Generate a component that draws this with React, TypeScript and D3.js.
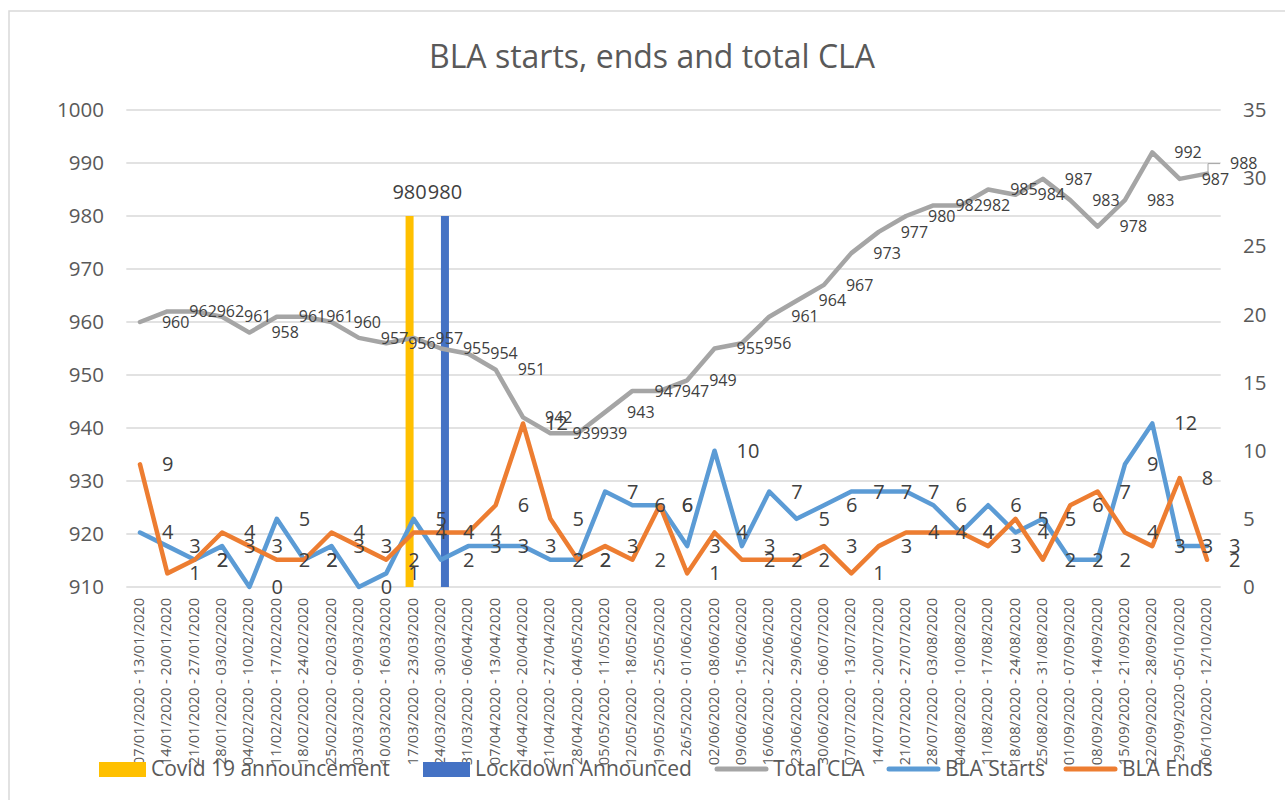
import React from "react";
import * as d3 from "d3";

const categories = [
  "07/01/2020 - 13/01/2020", "14/01/2020 - 20/01/2020", "21/01/2020 - 27/01/2020", "28/01/2020 - 03/02/2020",
  "04/02/2020 - 10/02/2020", "11/02/2020 - 17/02/2020", "18/02/2020 - 24/02/2020", "25/02/2020 - 02/03/2020",
  "03/03/2020 - 09/03/2020", "10/03/2020 - 16/03/2020", "17/03/2020 - 23/03/2020", "24/03/2020 - 30/03/2020",
  "31/03/2020 - 06/04/2020", "07/04/2020 - 13/04/2020", "14/04/2020 - 20/04/2020", "21/04/2020 - 27/04/2020",
  "28/04/2020 - 04/05/2020", "05/05/2020 - 11/05/2020", "12/05/2020 - 18/05/2020", "19/05/2020 - 25/05/2020",
  "26/5/2020 - 01/06/2020", "02/06/2020 - 08/06/2020", "09/06/2020 - 15/06/2020", "16/06/2020 - 22/06/2020",
  "23/06/2020 - 29/06/2020", "30/06/2020 - 06/07/2020", "07/07/2020 - 13/07/2020", "14/07/2020 - 20/07/2020",
  "21/07/2020 - 27/07/2020", "28/07/2020 - 03/08/2020", "04/08/2020 - 10/08/2020", "11/08/2020 - 17/08/2020",
  "18/08/2020 - 24/08/2020", "25/08/2020 - 31/08/2020", "01/09/2020 - 07/09/2020", "08/09/2020 - 14/09/2020",
  "15/09/2020 - 21/09/2020", "22/09/2020 - 28/09/2020", "29/09/2020 -05/10/2020", "06/10/2020 - 12/10/2020",
];

const totalCLA = [
  960, 962, 962, 961, 958, 961, 961, 960, 957, 956, 957, 955, 954, 951, 942, 939, 939, 943, 947, 947,
  949, 955, 956, 961, 964, 967, 973, 977, 980, 982, 982, 985, 984, 987, 983, 978, 983, 992, 987, 988,
];

const blaStarts = [
  4, 3, 2, 3, 0, 5, 2, 3, 0, 1, 5, 2, 3, 3, 3, 2, 2, 7, 6, 6,
  3, 10, 3, 7, 5, 6, 7, 7, 7, 6, 4, 6, 4, 5, 2, 2, 9, 12, 3, 3,
];

const blaEnds = [
  9, 1, 2, 4, 3, 2, 2, 4, 3, 2, 4, 4, 4, 6, 12, 5, 2, 3, 2, 6,
  1, 4, 2, 2, 2, 3, 1, 3, 4, 4, 4, 3, 5, 2, 6, 7, 4, 3, 8, 2,
];

const covidAnnouncement = [{ category: "17/03/2020 - 23/03/2020", value: 980 }];
const lockdownAnnounced = [{ category: "24/03/2020 - 30/03/2020", value: 980 }];

const leftTicks = [910, 920, 930, 940, 950, 960, 970, 980, 990, 1000];
const rightTicks = [0, 5, 10, 15, 20, 25, 30, 35];

const FONT = "'Open Sans', 'Noto Sans', sans-serif";
const C_GRAY = "#A5A5A5";
const C_BLUE = "#5B9BD5";
const C_ORANGE = "#ED7D31";
const C_YELLOW = "#FFC000";
const C_DBLUE = "#4472C4";
const C_TEXT = "#595959";
const C_LABEL = "#404040";

export default function App() {
  const x = d3.scaleBand<string>().domain(categories).range([126.3, 1220.7]).paddingInner(0).paddingOuter(0);
  const cx = (c: string) => (x(c) as number) + x.bandwidth() / 2;
  const yL = d3.scaleLinear().domain([910, 1000]).range([587, 110]);
  const yR = d3.scaleLinear().domain([0, 35]).range([587, 110]);
  const barW = x.bandwidth() / 3.42;
  const slot = d3.scaleBand<string>().domain(["covid", "lockdown"]).range([-barW, barW]);

  const lineL = d3.line<number>().x((_, i) => cx(categories[i])).y((d) => yL(d));
  const lineR = d3.line<number>().x((_, i) => cx(categories[i])).y((d) => yR(d));

  const barSeries = [
    { key: "covid", data: covidAnnouncement, color: C_YELLOW },
    { key: "lockdown", data: lockdownAnnounced, color: C_DBLUE },
  ];

  const legend = [
    { label: "Covid 19 announcement", type: "rect", color: C_YELLOW, x: 99, tx: 151 },
    { label: "Lockdown Announced", type: "rect", color: C_DBLUE, x: 423, tx: 475 },
    { label: "Total CLA", type: "line", color: C_GRAY, x: 715, tx: 773 },
    { label: "BLA Starts", type: "line", color: C_BLUE, x: 887, tx: 945 },
    { label: "BLA Ends", type: "line", color: C_ORANGE, x: 1064, tx: 1122 },
  ];

  const last = totalCLA.length - 1;

  return (
    <svg width={1285} height={800} style={{ position: "absolute", left: 0, top: 0, background: "#fff" }} fontFamily={FONT}>
      <rect x={0} y={0} width={1285} height={800} fill="#fff" />
      <rect x={9} y={11} width={1400} height={900} fill="none" stroke="#D9D9D9" strokeWidth={1.5} />

      <text x={652} y={68} textAnchor="middle" fontSize={32} fill={C_TEXT}>
        BLA starts, ends and total CLA
      </text>

      {/* gridlines */}
      {leftTicks.map((t) => (
        <line key={t} x1={126.3} x2={1220.7} y1={yL(t)} y2={yL(t)} stroke="#D9D9D9" strokeWidth={1.5} />
      ))}
      {leftTicks.map((t) => (
        <text key={"l" + t} x={104} y={yL(t)} dy="0.35em" textAnchor="end" fontSize={20.5} fill={C_TEXT}>
          {t}
        </text>
      ))}
      {rightTicks.map((t) => (
        <text key={"r" + t} x={1243} y={yR(t)} dy="0.35em" textAnchor="start" fontSize={20.5} fill={C_TEXT}>
          {t}
        </text>
      ))}

      {/* category labels */}
      {categories.map((c) => (
        <text
          key={c}
          transform={`translate(${cx(c) + 4},598) rotate(-90)`}
          textAnchor="end"
          fontSize={14.6}
          fill={C_TEXT}
        >
          {c}
        </text>
      ))}

      {/* bars */}
      {barSeries.map((s) =>
        s.data.map((d) => {
          const bx = cx(d.category) + (slot(s.key) as number);
          return (
            <rect key={s.key} x={bx} y={yL(d.value)} width={barW} height={yL(910) - yL(d.value)} fill={s.color} />
          );
        })
      )}

      {/* lines */}
      <path d={lineL(totalCLA) || ""} fill="none" stroke={C_GRAY} strokeWidth={4.5} strokeLinejoin="round" strokeLinecap="round" />
      <path d={lineR(blaStarts) || ""} fill="none" stroke={C_BLUE} strokeWidth={4.5} strokeLinejoin="round" strokeLinecap="round" />
      <path d={lineR(blaEnds) || ""} fill="none" stroke={C_ORANGE} strokeWidth={4.5} strokeLinejoin="round" strokeLinecap="round" />

      {/* bar labels */}
      {barSeries.map((s) =>
        s.data.map((d) => {
          const bx = cx(d.category) + (slot(s.key) as number) + barW / 2;
          return (
            <text key={"bl" + s.key} x={bx} y={yL(d.value) - 17} textAnchor="middle" fontSize={20} fill={C_LABEL}>
              {d.value}
            </text>
          );
        })
      )}

      {/* total CLA labels */}
      {totalCLA.map((v, i) => {
        const px = cx(categories[i]);
        const py = yL(v);
        if (i === last) {
          return (
            <g key={"t" + i}>
              <polyline
                points={`${px + 1},${py} ${px + 1},${py - 10} ${px + 13},${py - 10}`}
                fill="none"
                stroke={C_GRAY}
                strokeWidth={1}
              />
              <text x={px + 23} y={py - 10} dy="0.35em" fontSize={16} fill={C_LABEL}>
                {v}
              </text>
            </g>
          );
        }
        return (
          <text key={"t" + i} x={px + 22} y={py} dy="0.35em" fontSize={16} fill={C_LABEL}>
            {v}
          </text>
        );
      })}

      {/* starts / ends labels */}
      {blaStarts.map((v, i) => (
        <text key={"s" + i} x={cx(categories[i]) + 22} y={yR(v)} dy="0.35em" fontSize={20} fill={C_LABEL}>
          {v}
        </text>
      ))}
      {blaEnds.map((v, i) => (
        <text key={"e" + i} x={cx(categories[i]) + 22} y={yR(v)} dy="0.35em" fontSize={20} fill={C_LABEL}>
          {v}
        </text>
      ))}

      {/* legend */}
      {legend.map((l) => (
        <g key={l.label}>
          {l.type === "rect" ? (
            <rect x={l.x} y={762} width={47} height={15} fill={l.color} />
          ) : (
            <line x1={l.x + 2} x2={l.x + 51} y1={769} y2={769} stroke={l.color} strokeWidth={5} strokeLinecap="round" />
          )}
          <text x={l.tx} y={769} dy="0.35em" fontSize={21} fill={C_TEXT}>
            {l.label}
          </text>
        </g>
      ))}
    </svg>
  );
}
